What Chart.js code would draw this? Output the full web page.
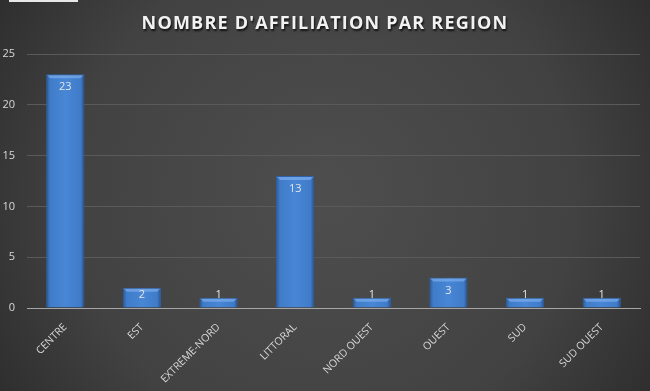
<!DOCTYPE html>
<html>
<head>
<meta charset="utf-8">
<script src="https://cdn.jsdelivr.net/npm/chart.js@4.4.1/dist/chart.umd.min.js"></script>
<style>
  html, body { margin: 0; padding: 0; background: #333; }
  #wrap { position: relative; width: 650px; height: 391px; }
  #tab { position: absolute; left: 9px; top: 0; width: 69px; height: 2px; background: #e8e8e8; }
</style>
</head>
<body>
<div id="wrap">
  <canvas id="chart" width="650" height="391"></canvas>
  <div id="tab"></div>
</div>
<script>
var chartTitle = "NOMBRE D'AFFILIATION PAR REGION";
var regions = ['CENTRE', 'EST', 'EXTREME-NORD', 'LITTORAL', 'NORD OUEST', 'OUEST', 'SUD', 'SUD OUEST'];
var affiliations = [23, 2, 1, 13, 1, 3, 1, 1];
var yTicks = [0, 5, 10, 15, 20, 25];

var backdrop = {
	id: 'backdrop',
	beforeDraw: function(chart) {
		var ctx = chart.ctx;
		var w = chart.width, h = chart.height;
		var g = ctx.createRadialGradient(w / 2, h / 2, 20, w / 2, h / 2, w * 0.62);
		g.addColorStop(0, '#4d4d4d');
		g.addColorStop(0.6, '#424242');
		g.addColorStop(1, '#2b2b2b');
		ctx.save();
		ctx.fillStyle = g;
		ctx.fillRect(0, 0, w, h);
		ctx.restore();
	}
};

// title drawn here so it can have letter spacing and a shadow
var spacedTitle = {
	id: 'spacedTitle',
	afterDraw: function(chart) {
		var ctx = chart.ctx;
		ctx.save();
		ctx.font = 'bold 18px "Open Sans", sans-serif';
		ctx.letterSpacing = '1.2px';
		ctx.fillStyle = '#f2f2f2';
		ctx.textAlign = 'center';
		ctx.textBaseline = 'middle';
		ctx.shadowColor = 'rgba(0,0,0,0.75)';
		ctx.shadowOffsetX = 1;
		ctx.shadowOffsetY = 2;
		ctx.shadowBlur = 2;
		ctx.fillText(chartTitle, chart.width / 2, 24);
		ctx.restore();
	}
};

var barLabels = {
	id: 'barLabels',
	afterDatasetsDraw: function(chart) {
		var ctx = chart.ctx;
		var meta = chart.getDatasetMeta(0);
		ctx.save();
		// top bevel highlight
		meta.data.forEach(function(bar) {
			var half = bar.width / 2;
			ctx.fillStyle = 'rgba(140,185,245,0.55)';
			ctx.beginPath();
			ctx.moveTo(bar.x - half + 1, bar.y + 1);
			ctx.lineTo(bar.x + half - 1, bar.y + 1);
			ctx.lineTo(bar.x + half - 4, bar.y + 4);
			ctx.lineTo(bar.x - half + 4, bar.y + 4);
			ctx.closePath();
			ctx.fill();
		});
		ctx.font = '11px "Open Sans", sans-serif';
		ctx.fillStyle = '#e6e6e6';
		ctx.textAlign = 'center';
		ctx.textBaseline = 'middle';
		meta.data.forEach(function(bar, i) {
			var y = Math.min(bar.y + 13, bar.base - 13);
			ctx.fillText(affiliations[i], bar.x, y);
		});
		ctx.restore();
	}
};

function barFill(context) {
	var chart = context.chart;
	var el = context.element;
	if (!chart.chartArea || !el || !isFinite(el.x) || !isFinite(el.width) || el.width <= 0) return '#4a84d0';
	var half = el.width / 2;
	var g = chart.ctx.createLinearGradient(el.x - half, 0, el.x + half, 0);
	g.addColorStop(0, '#2b5892');
	g.addColorStop(0.1, '#3f7bc8');
	g.addColorStop(0.5, '#4887d6');
	g.addColorStop(0.9, '#3f7bc8');
	g.addColorStop(1, '#28508a');
	return g;
}

var ctx = document.getElementById('chart').getContext('2d');
var chart = new Chart(ctx, {
	type: 'bar',
	data: {
		labels: regions,
		datasets: [{
			data: affiliations,
			backgroundColor: '#4a84d0',
			borderColor: '#2f62a8',
			borderWidth: 1,
			categoryPercentage: 1,
			barPercentage: 0.5
		}]
	},
	options: {
		responsive: false,
		animation: false,
		layout: { padding: { left: 0, right: 10, top: 54, bottom: 0 } },
		plugins: {
			legend: { display: false },
			tooltip: { enabled: false },
			title: { display: false }
		},
		scales: {
			x: {
				afterFit: function(axis) { axis.height = 83; },
				grid: { display: false },
				border: { color: '#a6a6a6', width: 1 },
				ticks: {
					color: '#d9d9d9',
					font: { family: '"Open Sans", sans-serif', size: 10.5 },
					maxRotation: 45,
					minRotation: 45,
					padding: 5
				}
			},
			y: {
				min: 0,
				max: 25,
				afterBuildTicks: function(axis) {
					axis.ticks = yTicks.map(function(v) { return { value: v }; });
				},
				afterFit: function(axis) { axis.width = 27; },
				grid: { color: '#5a5a5a', drawTicks: false },
				border: { display: false },
				ticks: {
					color: '#d9d9d9',
					font: { family: '"Open Sans", sans-serif', size: 11 },
					padding: 12
				}
			}
		}
	},
	plugins: [backdrop, barLabels, spacedTitle]
});
chart.data.datasets[0].backgroundColor = barFill;
chart.update();
</script>
</body>
</html>
